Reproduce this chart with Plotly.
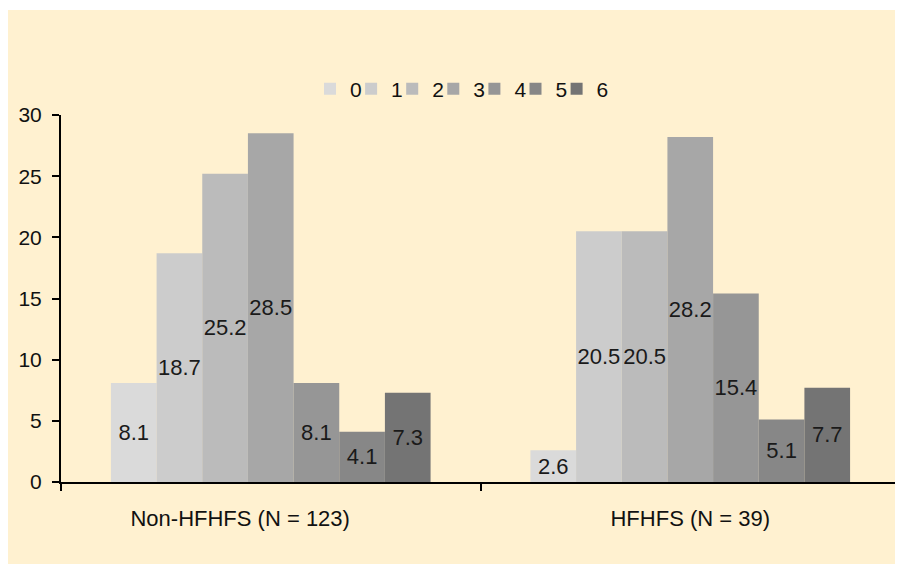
import plotly.graph_objects as go

groups = ["Non-HFHFS (N = 123)", "HFHFS (N = 39)"]
group_ticktext = ["Non-HFHFS (N = 123)" + "\u00a0" * 10, "HFHFS (N = 39)"]
scores = ["0", "1", "2", "3", "4", "5", "6"]
non_hfhfs = [8.1, 18.7, 25.2, 28.5, 8.1, 4.1, 7.3]
hfhfs = [2.6, 20.5, 20.5, 28.2, 15.4, 5.1, 7.7]
colors = ["#dadada", "#cccccc", "#bbbbbb", "#a7a7a7", "#969696", "#878787", "#747474"]

# page body has an 8px margin; the figure is sized to fill the rest of the window
OFF = 8
W, H = 903 - OFF, 564 - OFF
L, R, T, B = 61 - OFF, 3, 115 - OFF, 82
pw, ph = W - L - R, H - T - B
cream = "#fff1d0"
font = "Liberation Sans, Arial, sans-serif"

# legend key placement (page pixels): first key centre and spacing
KEY0, KEYSTEP, KEYOFF = 330, 41.1, 20

fig = go.Figure()
legends = {}
for i, s in enumerate(scores):
    vals = [non_hfhfs[i], hfhfs[i]]
    lname = "legend" if i == 0 else f"legend{i + 1}"
    fig.add_trace(go.Bar(
        name=s, x=groups, y=vals, marker_color=colors[i], marker_line_width=0,
        text=[f"{v:.1f}" for v in vals], textposition="inside", textangle=0,
        insidetextanchor="middle", constraintext="none",
        textfont=dict(size=22, color="#1a1a1a", family=font),
        legend=lname,
    ))
    left_fig = KEY0 + KEYSTEP * i - KEYOFF - OFF
    legends[lname] = dict(orientation="h", x=(left_fig - L) / pw, xanchor="left",
                          y=1 + (115 - 89) / ph, yanchor="middle",
                          font=dict(size=21), bgcolor="rgba(0,0,0,0)",
                          itemwidth=30)

fig.add_shape(type="rect", xref="paper", yref="paper",
              x0=(6 - OFF - L) / pw, x1=(W + 5 - L) / pw,
              y0=-(B + 5) / ph, y1=1 + (T - (10 - OFF)) / ph,
              fillcolor=cream, line_width=0, layer="below")

fig.update_layout(
    width=W, height=H,
    margin=dict(l=L, r=R, t=T, b=B),
    paper_bgcolor="white", plot_bgcolor="rgba(0,0,0,0)",
    barmode="group", bargap=0.238, bargroupgap=0,
    font=dict(family=font, size=21, color="#111111"),
    showlegend=True,
    xaxis=dict(showline=True, linecolor="black", linewidth=2,
               ticks="outside", ticklen=7, tickwidth=2, tickcolor="black",
               tickson="boundaries", ticklabelstandoff=16,
               tickmode="array", tickvals=groups, ticktext=group_ticktext,
               tickfont=dict(size=22), showgrid=False),
    yaxis=dict(range=[0, 30], dtick=5, showline=True, linecolor="black", linewidth=2,
               ticks="outside", ticklen=7, tickwidth=2, tickcolor="black",
               showgrid=False, zeroline=False, tickfont=dict(size=21),
               ticklabelstandoff=6),
)
fig.update_layout(**legends)

fig.write_html("out.html")
